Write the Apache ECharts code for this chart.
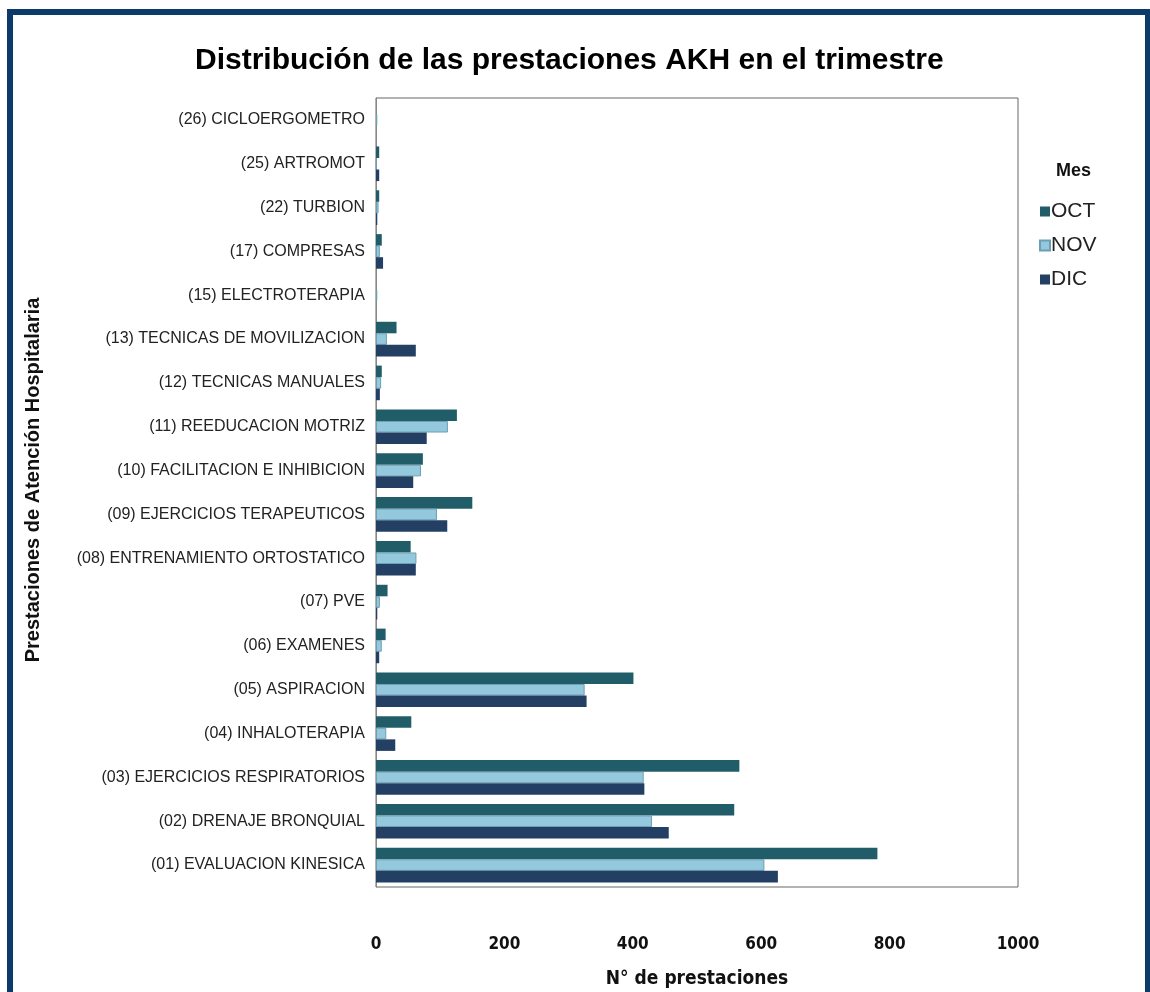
<!DOCTYPE html>
<html>
<head>
<meta charset="utf-8">
<script src="https://cdn.jsdelivr.net/npm/echarts@6/dist/echarts.min.js"></script>
<style>
  html, body { margin: 0; padding: 0; background: #fff; }
  #main { width: 1150px; height: 992px; }
</style>
</head>
<body>
<div id="main"></div>
<script>
// categorias de arriba hacia abajo
var categorias = [
  '(26) CICLOERGOMETRO', '(25) ARTROMOT', '(22) TURBION', '(17) COMPRESAS',
  '(15) ELECTROTERAPIA', '(13) TECNICAS DE MOVILIZACION', '(12) TECNICAS MANUALES',
  '(11) REEDUCACION MOTRIZ', '(10) FACILITACION E INHIBICION', '(09) EJERCICIOS TERAPEUTICOS',
  '(08) ENTRENAMIENTO ORTOSTATICO', '(07) PVE', '(06) EXAMENES', '(05) ASPIRACION',
  '(04) INHALOTERAPIA', '(03) EJERCICIOS RESPIRATORIOS', '(02) DRENAJE BRONQUIAL',
  '(01) EVALUACION KINESICA'
];
var oct = [0, 5, 5, 9, 0, 32, 9, 126, 73, 150, 54, 18, 15, 401, 55, 566, 558, 781];
var nov = [2, 1, 4, 6, 2, 17, 8, 112, 70, 95, 63, 6, 9, 325, 16, 417, 430, 605];
var dic = [0, 5, 2, 11, 0, 62, 6, 79, 58, 111, 62, 2, 5, 328, 30, 418, 456, 626];
var meses = ['OCT', 'NOV', 'DIC'];
var xTicks = [0, 200, 400, 600, 800, 1000];

var fuenteEje = '"DejaVu Sans Condensed", "Liberation Sans", sans-serif';

var myChart = echarts.init(document.getElementById('main'));

var option = {
    backgroundColor: '#fff',
    animation: false,
    title: [
        {
            text: 'Distribución de las prestaciones AKH en el trimestre',
            left: 190,
            top: 41,
            textStyle: { fontFamily: 'Liberation Sans', fontSize: 30, fontWeight: 'bold', color: '#000' }
        },
        {
            text: 'Mes',
            left: 1051,
            top: 157,
            textStyle: { fontFamily: 'Liberation Sans', fontSize: 18, fontWeight: 'bold', color: '#111' }
        }
    ],
    legend: {
        data: meses,
        orient: 'vertical',
        left: 1034,
        top: 196,
        itemWidth: 10,
        itemHeight: 10,
        itemGap: 13,
        icon: 'rect',
        textStyle: { fontFamily: 'Liberation Sans', fontSize: 21, color: '#222', padding: [0, 0, 0, -4] }
    },
    grid: {
        left: 376,
        right: 132,
        top: 98,
        bottom: 105,
        outerBoundsMode: 'none',
        show: true,
        borderColor: '#666',
        borderWidth: 1
    },
    xAxis: {
        type: 'value',
        min: 0,
        max: 1000,
        interval: 200,
        splitLine: { show: false },
        axisLine: { show: false },
        axisTick: { show: false },
        axisLabel: {
            margin: 49,
            fontFamily: fuenteEje,
            fontWeight: 'bold',
            fontSize: 17,
            color: '#111',
            formatter: function (v) { return xTicks.indexOf(v) >= 0 ? String(v) : ''; }
        },
        name: 'N° de prestaciones',
        nameLocation: 'middle',
        nameGap: 83,
        nameTextStyle: { fontFamily: fuenteEje, fontWeight: 'bold', fontSize: 19, color: '#111' }
    },
    yAxis: {
        type: 'category',
        data: categorias,
        inverse: true,
        axisLine: { show: true, lineStyle: { color: '#888' } },
        axisTick: { show: false },
        axisLabel: {
            margin: 11,
            fontFamily: 'Liberation Sans',
            fontSize: 16,
            color: '#222'
        }
    },
    series: [
        {
            name: 'OCT', type: 'bar', data: oct,
            barGap: '0%', barCategoryGap: '21%',
            itemStyle: { color: '#215d69' }
        },
        {
            name: 'NOV', type: 'bar', data: nov,
            barGap: '0%', barCategoryGap: '21%',
            itemStyle: { color: '#93c8dd', borderColor: '#6c9fb3', borderWidth: 1 }
        },
        {
            name: 'DIC', type: 'bar', data: dic,
            barGap: '0%', barCategoryGap: '21%',
            itemStyle: { color: '#233f63' }
        }
    ],
    graphic: [
        {
            // nombre del eje Y, algo mas arriba que el centro del grid
            type: 'text',
            x: 33,
            y: 480,
            rotation: Math.PI / 2,
            style: {
                text: 'Prestaciones de Atención Hospitalaria',
                fontFamily: 'Liberation Sans',
                fontWeight: 'bold',
                fontSize: 20,
                fill: '#111',
                align: 'center',
                verticalAlign: 'middle'
            }
        },
        {
            type: 'rect',
            shape: { x: 10, y: 12, width: 1138, height: 1000 },
            style: { fill: 'none', stroke: '#0c3a69', lineWidth: 6 },
            z: 100
        }
    ]
};

myChart.setOption(option);
</script>
</body>
</html>
